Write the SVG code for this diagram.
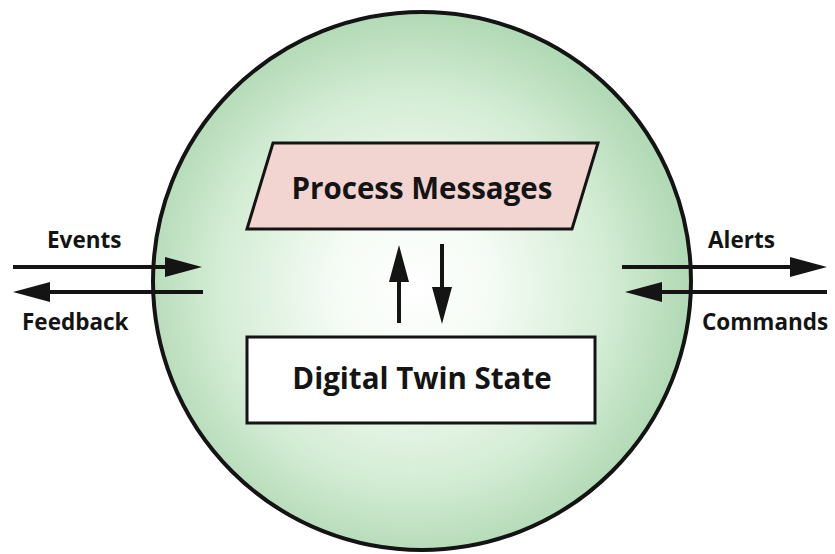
<svg xmlns="http://www.w3.org/2000/svg" width="835" height="554" viewBox="0 0 835 554">
  <defs>
    <radialGradient id="sphereFill" cx="412" cy="288" r="272" gradientUnits="userSpaceOnUse">
      <stop offset="0" stop-color="#ffffff"/>
      <stop offset="0.3" stop-color="#f4fbf4"/>
      <stop offset="0.72" stop-color="#d3ecd4"/>
      <stop offset="1" stop-color="#b3dab6"/>
    </radialGradient>
    <marker id="head" markerUnits="userSpaceOnUse" markerWidth="38" markerHeight="20" refX="0" refY="10" orient="auto" overflow="visible">
      <path d="M0,0 L37,10 L0,20 Z" fill="#141414"/>
    </marker>
  </defs>
  <style>
    .edge { stroke: #141414; stroke-width: 4; fill: none; marker-end: url(#head); }
    .label { font-family: "Open Sans", "Liberation Sans", sans-serif; font-weight: 700; fill: #141414; }
    .side { font-size: 22.5px; }
    .title { font-size: 29.5px; text-anchor: middle; }
  </style>

  <g id="twin-boundary">
    <circle cx="422" cy="281" r="269" fill="url(#sphereFill)" stroke="#141414" stroke-width="4"/>
  </g>

  <g id="process-messages">
    <polygon points="273,143 598,143 572,229 247,229" fill="#f2d4d1" stroke="#141414" stroke-width="3"/>
    <text class="label title" x="422" y="199">Process Messages</text>
  </g>

  <g id="digital-twin-state">
    <rect x="247" y="337" width="348" height="86" fill="#ffffff" stroke="#141414" stroke-width="3"/>
    <text class="label title" x="422" y="389">Digital Twin State</text>
  </g>

  <g id="connectors">
    <line class="edge" x1="13" y1="267" x2="165" y2="267"/>
    <line class="edge" x1="203" y1="292" x2="50" y2="292"/>
    <line class="edge" x1="622" y1="267" x2="790" y2="267"/>
    <line class="edge" x1="827" y1="292" x2="662" y2="292"/>
    <line class="edge" x1="399" y1="323" x2="399" y2="282"/>
    <line class="edge" x1="442" y1="244" x2="442" y2="287"/>
  </g>

  <g id="flow-labels">
    <text class="label side" x="47" y="248">Events</text>
    <text class="label side" x="22" y="330">Feedback</text>
    <text class="label side" x="708" y="248">Alerts</text>
    <text class="label side" x="702" y="330">Commands</text>
  </g>
</svg>
